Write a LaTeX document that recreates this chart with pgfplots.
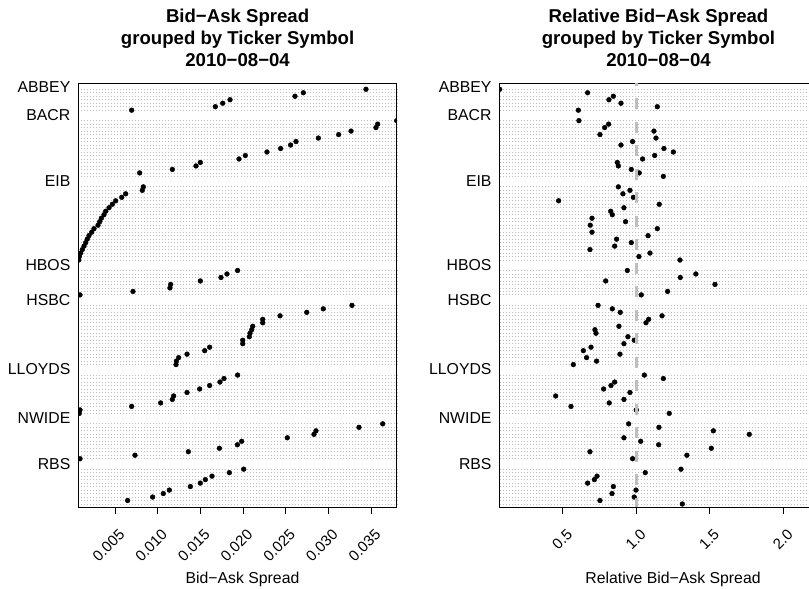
\documentclass[border=0pt]{standalone}
\usepackage{fontspec}
\setmainfont{Liberation Sans}
\usepackage{pgfplots}
\usepackage{pgfplotstable}
\pgfplotsset{compat=1.18}

\definecolor{rgray}{RGB}{190,190,190}

% row: position from the bottom (gap rows between groups are left empty)
\pgfplotstableread{
group row spread rel
ABBEY 120 0.03441 0.0714
ABBEY 119 0.02707 0.669
ABBEY 118 0.02609 0.844
ABBEY 117 0.01848 0.814
ABBEY 116 0.01762 0.896
ABBEY 115 0.01676 1.143
ABBEY 114 0.00695 0.606
BACR 111 0.03801 0.610
BACR 110 0.03578 0.812
BACR 109 0.03558 0.785
BACR 108 0.03266 1.120
BACR 107 0.03121 0.753
BACR 106 0.02883 1.134
BACR 105 0.02621 0.975
BACR 104 0.02558 0.896
BACR 103 0.02441 1.188
BACR 102 0.02281 1.252
BACR 101 0.02027 1.125
BACR 100 0.01953 1.043
BACR 99 0.01500 0.871
BACR 98 0.01449 0.878
BACR 97 0.01172 0.966
BACR 96 0.00789 1.020
BACR 95 0.00072 1.184
EIB 92 0.00832 0.878
EIB 91 0.00820 0.957
EIB 90 0.00625 0.909
EIB 89 0.00579 0.980
EIB 88 0.00508 0.472
EIB 87 0.00469 1.156
EIB 86 0.00430 0.916
EIB 85 0.00391 0.826
EIB 84 0.00371 0.837
EIB 83 0.00340 0.699
EIB 82 0.00321 0.927
EIB 81 0.00301 0.687
EIB 80 0.00254 1.143
EIB 79 0.00227 0.699
EIB 78 0.00195 1.080
EIB 77 0.00175 0.866
EIB 76 0.00157 0.966
EIB 75 0.00137 0.853
EIB 74 0.00117 0.685
EIB 73 0.00098 1.093
EIB 72 0.00082 1.018
EIB 71 0.00075 1.297
HBOS 68 0.01937 0.939
HBOS 67 0.01812 1.405
HBOS 66 0.01742 1.299
HBOS 65 0.01500 0.792
HBOS 64 0.01152 1.535
HBOS 63 0.01144 2.300
HBOS 62 0.00711 1.213
HBOS 61 0.00090 1.034
HSBC 58 0.03277 0.740
HSBC 57 0.02941 0.837
HSBC 56 0.02747 0.891
HSBC 55 0.02434 1.175
HSBC 54 0.02231 1.084
HSBC 53 0.02231 1.066
HSBC 52 0.02114 0.882
HSBC 51 0.02102 0.719
HSBC 50 0.02082 0.726
HSBC 49 0.02074 0.943
HSBC 48 0.01997 0.986
HSBC 47 0.01997 0.916
HSBC 46 0.01609 0.692
HSBC 45 0.01551 0.640
HSBC 44 0.01344 0.889
HSBC 43 0.01246 0.662
HSBC 42 0.01219 0.730
HSBC 41 0.01215 0.572
LLOYDS 38 0.01937 1.055
LLOYDS 37 0.01777 1.184
LLOYDS 36 0.01730 0.853
LLOYDS 35 0.01609 0.828
LLOYDS 34 0.01492 0.778
LLOYDS 33 0.01344 0.957
LLOYDS 32 0.01187 0.452
LLOYDS 31 0.01172 0.916
LLOYDS 30 0.01035 0.816
LLOYDS 29 0.00695 0.556
LLOYDS 28 0.00090 1.000
LLOYDS 27 0.00082 1.224
NWIDE 24 0.03637 0.948
NWIDE 23 0.03359 1.154
NWIDE 22 0.02855 1.524
NWIDE 21 0.02832 1.768
NWIDE 20 0.02519 0.916
NWIDE 19 0.01984 1.030
NWIDE 18 0.01934 1.152
NWIDE 17 0.01723 1.510
NWIDE 16 0.01359 0.685
NWIDE 15 0.00734 1.344
NWIDE 14 0.00090 0.975
RBS 11 0.02008 1.304
RBS 10 0.01840 1.061
RBS 9 0.01637 0.733
RBS 8 0.01559 0.715
RBS 7 0.01500 0.669
RBS 6 0.01383 0.844
RBS 5 0.01137 0.998
RBS 4 0.01066 0.835
RBS 3 0.00941 0.986
RBS 2 0.00648 0.753
RBS 1 0.00072 1.313
}\bidask

\pgfplotsset{
  dotpanel/.style={
    scale only axis, height=424.5pt,
    ymin=0, ymax=121.8,
    axis line style={line width=0.8pt},
    ytick=data, yticklabels={}, ytick style={draw=none},
    ymajorgrids,
    major grid style={rgray, line width=0.8pt, dash pattern=on 0.8pt off 2.2pt},
    extra y ticks={121,113,94,70,60,40,26,13},
    extra y tick labels={ABBEY,BACR,EIB,HBOS,HSBC,LLOYDS,NWIDE,RBS},
    extra y tick style={grid=none,
      yticklabel style={font=\fontsize{15.8}{18}\selectfont, anchor=base east,
        inner sep=0pt, xshift=-8pt, yshift=-6.9pt}},
    scaled x ticks=false,
    xtick pos=bottom, xtick align=outside, major tick length=7pt,
    xtick style={line width=0.8pt, black},
    xticklabel style={font=\fontsize{15}{18}\selectfont, xshift=3pt, yshift=-13.5pt,
      rotate=45, anchor=north east, inner sep=0pt},
    clip marker paths=true,
  },
  dots/.style={only marks, mark=*, mark size=2.4pt, black},
}

\begin{document}
\begin{tikzpicture}
\path[use as bounding box] (0,0) rectangle (809pt,589pt);

\begin{axis}[dotpanel,
    at={(78.5pt,81.5pt)}, anchor=south west, width=318.2pt,
    xmin=0.000723, xmax=0.03801,
    xtick={0.005,0.010,0.015,0.020,0.025,0.030,0.035},
    xticklabels={0.005,0.010,0.015,0.020,0.025,0.030,0.035},
  ]
  \addplot[dots] table[x=spread, y=row] {\bidask};
\end{axis}

\begin{axis}[dotpanel,
    at={(499.7pt,81.5pt)}, anchor=south west, width=327.8pt,
    xmin=0.0714, xmax=2.3,
    xtick={0.5,1,1.5,2},
    xticklabels={0.5,1.0,1.5,2.0},
  ]
  \addplot[dots] table[x=rel, y=row] {\bidask};
  \addplot[rgray, line width=2.7pt, dash pattern=on 11pt off 12.5pt, dash phase=8.2pt]
    coordinates {(1,121.8) (1,0)};
\end{axis}

\begin{scope}[every node/.style={anchor=base, font=\bfseries\fontsize{18.6}{22}\selectfont}]
  \node at (237.6pt,566.3pt) {Bid−Ask Spread};
  \node at (237.6pt,544.3pt) {grouped by Ticker Symbol};
  \node at (237.6pt,522.3pt) {2010−08−04};
  \node at (658.5pt,566.3pt) {Relative Bid−Ask Spread};
  \node at (658.5pt,544.3pt) {grouped by Ticker Symbol};
  \node at (658.5pt,522.3pt) {2010−08−04};
\end{scope}
\begin{scope}[every node/.style={anchor=base, font=\fontsize{15.8}{18}\selectfont}]
  \node at (242.5pt,5.7pt) {Bid−Ask Spread};
  \node at (673pt,5.7pt) {Relative Bid−Ask Spread};
\end{scope}
\end{tikzpicture}
\end{document}
